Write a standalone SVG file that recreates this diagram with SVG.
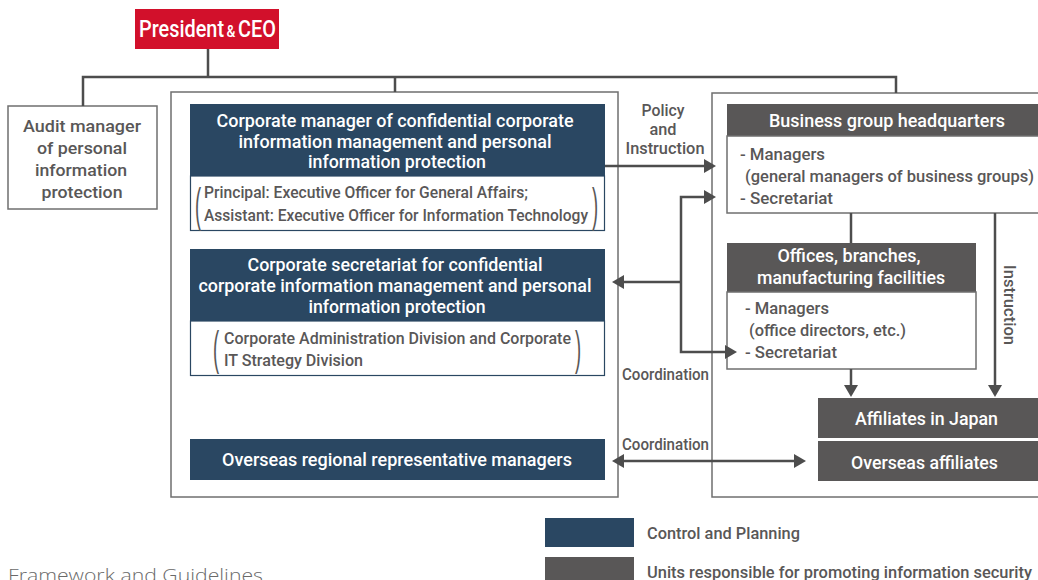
<svg xmlns="http://www.w3.org/2000/svg" width="1038" height="580" viewBox="0 0 1038 580">
<style>
text{font-family:"Roboto","Liberation Sans",sans-serif;font-weight:500;}
.w{fill:#ffffff;font-size:18px;}
.g{fill:#595757;font-size:17px;}
.c{text-anchor:middle;}
.frame{fill:#ffffff;stroke:#6f6f6f;stroke-width:1.5;}
.blue{fill:#2a4762;}
.gray{fill:#595757;}
.sub{fill:#ffffff;stroke:#2a4762;stroke-width:1.2;}
.body{fill:#ffffff;stroke:#6f6f6f;stroke-width:1.5;}
.par{fill:#595757;font-size:46px;font-weight:300;font-family:"Liberation Sans",sans-serif;}
.ln{fill:none;stroke:#4d4d4d;stroke-width:2.5;}
</style>
<defs>
<marker id="ah" markerUnits="userSpaceOnUse" markerWidth="12" markerHeight="14" refX="4" refY="7" orient="auto-start-reverse">
<path d="M0,0 L12,7 L0,14 Z" fill="#4d4d4d"/>
</marker>
</defs>
<rect width="1038" height="580" fill="#ffffff"/>

<g id="control-frame">
<rect class="frame" x="171" y="92" width="447" height="405"/>
</g>
<g id="promote-frame">
<rect class="frame" x="712" y="93" width="340" height="404"/>
</g>

<g id="president">
<rect x="135" y="9" width="144" height="40" fill="#d2102b"/>
<text x="139" y="37" fill="#ffffff" font-size="23" textLength="137" lengthAdjust="spacingAndGlyphs">President<tspan font-size="16" dx="3">&amp;</tspan><tspan dx="3">CEO</tspan></text>
</g>

<g id="audit">
<rect class="frame" x="8" y="106" width="149" height="103"/>
<text class="g c" x="82" y="132" font-size="18.5" textLength="118" lengthAdjust="spacingAndGlyphs">Audit manager</text>
<text class="g c" x="82" y="154" font-size="18.5" textLength="90" lengthAdjust="spacingAndGlyphs">of personal</text>
<text class="g c" x="81" y="176" font-size="18.5" textLength="92" lengthAdjust="spacingAndGlyphs">information</text>
<text class="g c" x="82" y="198" font-size="18.5" textLength="81" lengthAdjust="spacingAndGlyphs">protection</text>
</g>

<g id="corporate-manager">
<rect class="blue" x="190" y="104" width="415" height="72"/>
<rect class="sub" x="190.5" y="176" width="414" height="54.5"/>
<text class="w c" x="395" y="127" textLength="357" lengthAdjust="spacingAndGlyphs">Corporate manager of confidential corporate</text>
<text class="w c" x="395" y="148" textLength="313" lengthAdjust="spacingAndGlyphs">information management and personal</text>
<text class="w c" x="397" y="168" textLength="178" lengthAdjust="spacingAndGlyphs">information protection</text>
<text class="par" transform="translate(195,221) scale(0.4,1)">(</text>
<text class="par" transform="translate(592,221) scale(0.4,1)">)</text>
<text class="g" x="204" y="198" textLength="324" lengthAdjust="spacingAndGlyphs">Principal: Executive Officer for General Affairs;</text>
<text class="g" x="204" y="221" textLength="384" lengthAdjust="spacingAndGlyphs">Assistant: Executive Officer for Information Technology</text>
</g>

<g id="corporate-secretariat">
<rect class="blue" x="190" y="249" width="415" height="72"/>
<rect class="sub" x="190.5" y="321" width="414" height="54.5"/>
<text class="w c" x="395" y="271" textLength="295" lengthAdjust="spacingAndGlyphs">Corporate secretariat for confidential</text>
<text class="w c" x="395" y="292" textLength="393" lengthAdjust="spacingAndGlyphs">corporate information management and personal</text>
<text class="w c" x="397" y="313" textLength="177" lengthAdjust="spacingAndGlyphs">information protection</text>
<text class="par" transform="translate(213,364) scale(0.4,1)">(</text>
<text class="par" transform="translate(575,364) scale(0.4,1)">)</text>
<text class="g" x="224" y="344" textLength="347" lengthAdjust="spacingAndGlyphs">Corporate Administration Division and Corporate</text>
<text class="g" x="224" y="366" textLength="139" lengthAdjust="spacingAndGlyphs">IT Strategy Division</text>
</g>

<g id="overseas-regional">
<rect class="blue" x="190" y="439" width="415" height="41"/>
<text class="w c" x="397" y="466" textLength="350" lengthAdjust="spacingAndGlyphs">Overseas regional representative managers</text>
</g>

<g id="business-hq">
<rect class="gray" x="727" y="104" width="320" height="32"/>
<rect class="body" x="727" y="136" width="320" height="77"/>
<text class="w" x="769" y="127" textLength="236" lengthAdjust="spacingAndGlyphs">Business group headquarters</text>
<text class="g" x="740" y="160" textLength="85" lengthAdjust="spacingAndGlyphs">- Managers</text>
<text class="g" x="745" y="182" textLength="289" lengthAdjust="spacingAndGlyphs">(general managers of business groups)</text>
<text class="g" x="740" y="204" textLength="93" lengthAdjust="spacingAndGlyphs">- Secretariat</text>
</g>

<g id="offices">
<rect class="gray" x="727" y="243" width="249" height="49"/>
<rect class="body" x="727" y="292" width="249" height="77"/>
<text class="w c" x="849" y="262" textLength="143" lengthAdjust="spacingAndGlyphs">Offices, branches,</text>
<text class="w c" x="851" y="284" textLength="188" lengthAdjust="spacingAndGlyphs">manufacturing facilities</text>
<text class="g" x="745" y="314" textLength="84" lengthAdjust="spacingAndGlyphs">- Managers</text>
<text class="g" x="749" y="336" textLength="157" lengthAdjust="spacingAndGlyphs">(office directors, etc.)</text>
<text class="g" x="745" y="358" textLength="92" lengthAdjust="spacingAndGlyphs">- Secretariat</text>
</g>

<g id="affiliates-japan">
<rect class="gray" x="818" y="398" width="230" height="40"/>
<text class="w" x="855" y="425" textLength="143" lengthAdjust="spacingAndGlyphs">Affiliates in Japan</text>
</g>

<g id="overseas-affiliates">
<rect class="gray" x="818" y="441" width="230" height="40"/>
<text class="w" x="851" y="469" textLength="147" lengthAdjust="spacingAndGlyphs">Overseas affiliates</text>
</g>

<g id="connectors">
<path class="ln" d="M208,49 V77 M83,106 V77 H896 V93 M395,77 V92"/>
<path class="ln" d="M605,166 H708" marker-end="url(#ah)"/>
<path class="ln" d="M708,197 H681 V352 H729" marker-start="url(#ah)" marker-end="url(#ah)"/>
<path class="ln" d="M681,282 H620" marker-end="url(#ah)"/>
<path class="ln" d="M851,213 V243"/>
<path class="ln" d="M851,369 V389" marker-end="url(#ah)"/>
<path class="ln" d="M995,213 V389" marker-end="url(#ah)"/>
<path class="ln" d="M620,461 H798" marker-start="url(#ah)" marker-end="url(#ah)"/>
</g>

<g id="labels">
<text class="g c" x="663" y="116" font-size="16.5" textLength="43" lengthAdjust="spacingAndGlyphs">Policy</text>
<text class="g c" x="663" y="135" font-size="16.5" textLength="27" lengthAdjust="spacingAndGlyphs">and</text>
<text class="g c" x="665" y="154" font-size="16.5" textLength="79" lengthAdjust="spacingAndGlyphs">Instruction</text>
<text class="g" x="622" y="380" font-size="16" textLength="87" lengthAdjust="spacingAndGlyphs">Coordination</text>
<text class="g" x="622" y="450" font-size="16" textLength="87" lengthAdjust="spacingAndGlyphs">Coordination</text>
<text class="g c" transform="translate(1004,305) rotate(90)" font-size="16.5" textLength="80" lengthAdjust="spacingAndGlyphs">Instruction</text>
</g>

<g id="legend">
<rect class="blue" x="545" y="518" width="89" height="29"/>
<rect class="gray" x="545" y="557" width="89" height="25"/>
<text class="g" x="647" y="539" textLength="153" lengthAdjust="spacingAndGlyphs">Control and Planning</text>
<text class="g" x="647" y="578" textLength="385" lengthAdjust="spacingAndGlyphs">Units responsible for promoting information security</text>
</g>

<text x="8" y="582" fill="#6a6a6a" font-size="18" style="font-family:'Open Sans','Liberation Sans',sans-serif;font-weight:300;" textLength="255" lengthAdjust="spacingAndGlyphs">Framework and Guidelines</text>
</svg>
